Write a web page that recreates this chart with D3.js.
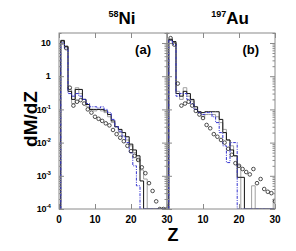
<!DOCTYPE html>
<html>
<head>
<meta charset="utf-8">
<script src="https://cdn.jsdelivr.net/npm/d3@7"></script>
<style>
  body { margin: 0; background: white; }
  svg { display: block; font-family: "Liberation Sans", Arial, sans-serif; font-weight: bold; }
</style>
</head>
<body>
<div id="chart"></div>
<script>
// Datos
const zBins = [1,2,3,4,5,6,7,8,9,10,11,12,13,14,15,16,17,18,19,20,21,22,23,24,25,26,27,28,29,30];

// 58Ni
const niExp   = [10.5,7,0.45,0.13,0.17,0.19,0.15,0.1,0.08,0.06,0.052,0.045,0.038,0.033,0.024,0.018,0.014,0.011,0.008,0.0055,0.004,0.003,0.0018,0.0012,0.0006,0.00035,0.00017,0.0001,0.0001,0.0001];
const niBlack = [12,8,0.35,0.2,0.4,0.4,0.2,0.14,0.1,0.1,0.1,0.1,0.09,0.07,0.045,0.03,0.025,0.02,0.015,0.009,0.006,0.004,0.0007,0,0,0,0,0,0,0];
const niGray  = [11,7.5,0.4,0.15,0.45,0.3,0.2,0.12,0.1,0.09,0.1,0.09,0.08,0.06,0.04,0.03,0.02,0.016,0.012,0.008,0.005,0.003,0.0015,0.0008,0,0,0,0,0,0];
const niBlue  = [10,7,0.3,0.25,0.3,0.25,0.2,0.15,0.12,0.12,0.11,0.12,0.1,0.08,0.05,0.03,0.022,0.015,0.01,0.005,0.002,0.0005,0,0,0,0,0,0,0,0];

// 197Au
const auExp   = [14,9,0.6,0.13,0.15,0.17,0.13,0.09,0.07,0.055,0.034,0.027,0.018,0.015,0.012,0.01,0.0065,0.0043,0.0024,0.002,0.0016,0.0013,0.0011,0.0016,0.0006,0.0008,0.0004,0.00033,0.0003,0.00017];
const auBlack = [13,11,0.3,0.25,0.35,0.3,0.2,0.12,0.085,0.08,0.085,0.085,0.085,0.085,0.05,0.02,0.012,0.006,0.004,0.0009,0.0009,0,0,0,0,0,0,0,0,0];
const auGray  = [12,10,0.35,0.2,0.45,0.25,0.18,0.1,0.08,0.06,0.07,0.07,0.07,0.06,0.04,0.025,0.012,0.008,0.004,0.002,0,0,0,0.0005,0,0,0,0,0,0.0002];
const auBlue  = [12,9,0.25,0.3,0.3,0.2,0.15,0.1,0.08,0.07,0.08,0.08,0.06,0.04,0.02,0.008,0.0025,0.01,0.01,0,0,0,0,0,0,0,0,0,0,0];

const xTicks = [0,10,20,30];
const yMajor = [10,1,0.1,0.01,0.001,0.0001];
const yLabels = [["10",""],["1",""],["10","-1"],["10","-2"],["10","-3"],["10","-4"]];

const panels = [
  { id: "ni", x0: 59, x1: 167, exp: niExp, black: niBlack, gray: niGray, blue: niBlue, tag: "(a)", mass: "58", elem: "Ni" },
  { id: "au", x0: 167, x1: 275, exp: auExp, black: auBlack, gray: auGray, blue: auBlue, tag: "(b)", mass: "197", elem: "Au" }
];

const width = 296, height = 251;
const plotTop = 33, plotBottom = 209;
const yMin = 1e-4;

const svg = d3.select("#chart").append("svg")
  .attr("width", width).attr("height", height);

const y = d3.scaleLog().domain([yMin, 20]).range([plotBottom, plotTop]);

// ticks menores 2..9 por decada
const yMinor = [];
yMajor.forEach((d) => { if (d < 10) for (let k = 2; k <= 9; k++) yMinor.push(d * k); });
yMinor.push(20);

const defs = svg.append("defs");

panels.forEach((p) => {
  const x = d3.scaleLinear().domain([0, 30]).range([p.x0, p.x1]);

  defs.append("clipPath").attr("id", `clip-${p.id}`)
    .append("rect").attr("x", p.x0).attr("y", plotTop).attr("width", p.x1 - p.x0).attr("height", plotBottom - plotTop);

  const g = svg.append("g");
  const plot = g.append("g").attr("clip-path", `url(#clip-${p.id})`);

  // histograma en escalon
  const stepPath = (vals) => {
    const pts = [[0.5, yMin]];
    zBins.forEach((z, i) => pts.push([z - 0.5, Math.max(vals[i], yMin)]));
    pts.push([30.5, Math.max(vals[vals.length - 1], yMin)]);
    return d3.line().x((d) => x(d[0])).y((d) => y(d[1])).curve(d3.curveStepAfter)(pts);
  };

  plot.append("path").attr("d", stepPath(p.gray))
    .attr("fill", "none").attr("stroke", "#a0a0a0").attr("stroke-width", 1);
  plot.append("path").attr("d", stepPath(p.black))
    .attr("fill", "none").attr("stroke", "#111").attr("stroke-width", 1);
  plot.append("path").attr("d", stepPath(p.blue))
    .attr("fill", "none").attr("stroke", "#3535d0").attr("stroke-width", 1)
    .attr("stroke-dasharray", "3,1.2,1,1.2");

  // puntos experimentales
  plot.selectAll("circle").data(zBins).enter().append("circle")
    .attr("cx", (z) => x(z))
    .attr("cy", (z, i) => y(Math.max(p.exp[i], yMin)))
    .attr("r", 1.8)
    .attr("fill", "none").attr("stroke", "#222").attr("stroke-width", 0.8);

  // ejes con ticks hacia adentro
  const frame = "#8a8a8a";
  const mk = (axis, tx, ty) => g.append("g").attr("transform", `translate(${tx},${ty})`).call(axis)
    .call((s) => { s.select(".domain").remove(); s.selectAll("line").attr("stroke", frame); s.selectAll("text").remove(); });

  mk(d3.axisRight(y).tickValues(yMajor).tickSize(5), p.x0, 0);
  mk(d3.axisRight(y).tickValues(yMinor).tickSize(2.5), p.x0, 0);
  mk(d3.axisLeft(y).tickValues(yMajor).tickSize(5), p.x1, 0);
  mk(d3.axisLeft(y).tickValues(yMinor).tickSize(2.5), p.x1, 0);
  mk(d3.axisTop(x).tickValues(xTicks).tickSize(5), 0, plotBottom);
  mk(d3.axisBottom(x).tickValues(xTicks).tickSize(5), 0, plotTop);

  g.append("rect").attr("x", p.x0).attr("y", plotTop)
    .attr("width", p.x1 - p.x0).attr("height", plotBottom - plotTop)
    .attr("fill", "none").attr("stroke", frame).attr("stroke-width", 1);

  // etiquetas eje x
  g.selectAll("text.xl").data(p.id === "ni" ? xTicks : xTicks.slice(1)).enter().append("text")
    .attr("x", (d) => x(d)).attr("y", 223)
    .attr("text-anchor", "middle").attr("font-size", 10)
    .text((d) => d);

  // etiqueta del panel
  g.append("text").attr("x", p.x1 - 16).attr("y", 54)
    .attr("text-anchor", "end").attr("font-size", 13).text(p.tag);

  // titulo del nucleo
  const t = g.append("text").attr("x", (p.x0 + p.x1) / 2 + 9).attr("y", 24)
    .attr("text-anchor", "middle");
  t.append("tspan").attr("font-size", 9).attr("dy", -7).text(p.mass);
  t.append("tspan").attr("font-size", 17).attr("dy", 7).text(p.elem);
});

// etiquetas eje y
const yl = svg.append("g");
yMajor.forEach((d, i) => {
  const t = yl.append("text").attr("x", 50.5).attr("y", y(d) + 3.2)
    .attr("text-anchor", "end").attr("font-size", 9).attr("letter-spacing", -0.3);
  t.append("tspan").text(yLabels[i][0]);
  if (yLabels[i][1]) t.append("tspan").attr("font-size", 5.5).attr("dy", -4).text(yLabels[i][1]);
});

svg.append("text")
  .attr("transform", `translate(37,119) rotate(-90)`)
  .attr("text-anchor", "middle").attr("font-size", 19).text("dM/dZ");

svg.append("text").attr("x", 173).attr("y", 241)
  .attr("text-anchor", "middle").attr("font-size", 18).text("Z");
</script>
</body>
</html>
